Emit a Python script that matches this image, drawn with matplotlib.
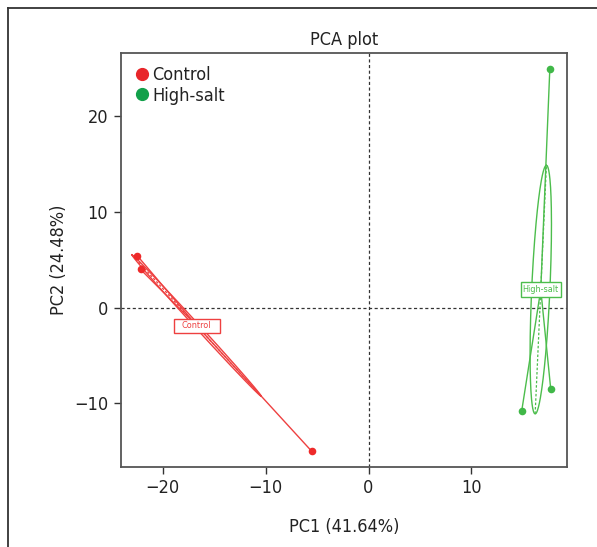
import numpy as np
import matplotlib
matplotlib.use('Agg')
import matplotlib.pyplot as plt
from matplotlib.lines import Line2D
from matplotlib.patches import Rectangle
from matplotlib.transforms import ScaledTranslation

# ---- data ----
groups = ['Control', 'High-salt']
sample_group = ['Control', 'Control', 'Control', 'High-salt', 'High-salt', 'High-salt']
pc1 = [-22.47, -22.14, -5.51, 17.61, 17.70, 14.88]
pc2 = [5.44, 4.00, -15.01, 24.99, -8.53, -10.77]
pc1_pct = 41.64
pc2_pct = 24.48
title_text = 'PCA plot'
x_ticks = [-20, -10, 0, 10]
y_ticks = [-10, 0, 10, 20]

# ---- style ----
plt.rcParams['font.family'] = ['DejaVu Sans']
plt.rcParams['font.stretch'] = 'condensed'
pt_color = {'Control': '#EE2A2A', 'High-salt': '#40B848'}
ln_color = {'Control': '#EE4040', 'High-salt': '#4CBD4C'}
lg_color = {'Control': '#E8262A', 'High-salt': '#12A04A'}
box_size_px = {'Control': (46, 14), 'High-salt': (40, 15)}
ELL_K = 0.794
DPI = 100

fig = plt.figure(figsize=(5.97, 5.47), dpi=DPI)
# outer frame lines (left & top)
fig.add_artist(Line2D([8.4/597, 8.4/597], [0, 1 - 7.5/547], color='#333333', lw=1.3))
fig.add_artist(Line2D([8.4/597, 1], [1 - 7.5/547, 1 - 7.5/547], color='#333333', lw=1.3))

ax = fig.add_axes([120.7/597, 1 - 466.7/547, (567.3 - 120.7)/597, (466.7 - 53.3)/547])

x = np.array(pc1)
y = np.array(pc2)
g = np.array(sample_group)

# limits: 4% extension like base R
xr = x.max() - x.min()
yr = y.max() - y.min()
ax.set_xlim(x.min() - 0.04*xr, x.max() + 0.04*xr)
ax.set_ylim(y.min() - 0.04*yr, y.max() + 0.04*yr)

ax.axhline(0, color='#333333', lw=0.9, ls=(0, (2.5, 2)), zorder=1)
ax.axvline(0, color='#333333', lw=0.9, ls=(0, (2.5, 2)), zorder=1)

for grp in groups:
    m = g == grp
    gx, gy = x[m], y[m]
    mx, my = gx.mean(), gy.mean()
    c = ln_color[grp]
    # star lines
    for px, py in zip(gx, gy):
        ax.plot([mx, px], [my, py], color=c, lw=1.0, zorder=2)
    # ellipse (population covariance)
    cov = np.cov(np.vstack([gx, gy]), bias=True)
    vals, vecs = np.linalg.eigh(cov)
    order = np.argsort(vals)[::-1]
    vals, vecs = vals[order], vecs[:, order]
    s1, s2 = np.sqrt(np.clip(vals, 0, None)) * ELL_K
    t = np.linspace(0, 2*np.pi, 200)
    ex = mx + s1*np.cos(t)*vecs[0, 0] + s2*np.sin(t)*vecs[0, 1]
    ey = my + s1*np.cos(t)*vecs[1, 0] + s2*np.sin(t)*vecs[1, 1]
    ax.plot(ex, ey, color=c, lw=1.0, zorder=2)
    # ellipse axes dashed
    for s, k in ((s1, 0), (s2, 1)):
        ax.plot([mx - s*vecs[0, k], mx + s*vecs[0, k]],
                [my - s*vecs[1, k], my + s*vecs[1, k]],
                color=c, lw=0.9, ls=(0, (2, 1.5)), zorder=2)
    # points
    ax.scatter(gx, gy, s=30, color=pt_color[grp], zorder=4, linewidths=0)
    # label box (fixed pixel size, centred on group centroid)
    bw, bh = box_size_px[grp]
    trans = fig.dpi_scale_trans + ScaledTranslation(mx, my, ax.transData)
    ax.add_patch(Rectangle((-bw/2/DPI, -bh/2/DPI), bw/DPI, bh/DPI, transform=trans,
                           fc='white', ec=c, lw=1.0, zorder=5))
    ax.text(mx, my, grp, ha='center', va='center', fontsize=6.5, color=c, zorder=6)

ax.set_xticks(x_ticks)
ax.set_yticks(y_ticks)
ax.set_xticklabels(['\u2212' + str(-v) if v < 0 else str(v) for v in x_ticks])
ax.set_yticklabels(['\u2212' + str(-v) if v < 0 else str(v) for v in y_ticks])
ax.tick_params(direction='out', length=5, width=1.0, color='#333333',
               labelsize=13, labelcolor='#222222', pad=4)
for sp in ax.spines.values():
    sp.set_color('#555555')
    sp.set_linewidth(1.3)

ax.set_xlabel('PC1 (%.2f%%)' % pc1_pct, fontsize=13, color='#222222', labelpad=15)
ax.set_ylabel('PC2 (%.2f%%)' % pc2_pct, fontsize=13, color='#222222')
ax.yaxis.set_label_coords(-0.118, 0.5)
ax.set_title(title_text, fontsize=13, color='#222222', pad=6)

handles = [Line2D([], [], ls='none', marker='o', markersize=8.5,
                  markerfacecolor=lg_color[gname], markeredgecolor=lg_color[gname])
           for gname in groups]
ax.legend(handles, groups, loc='upper left', frameon=False, fontsize=13,
          handletextpad=0.05, borderaxespad=0.3, labelspacing=0.15,
          handlelength=1.0, labelcolor='#222222')

fig.savefig('out.png', dpi=DPI, facecolor='white')
